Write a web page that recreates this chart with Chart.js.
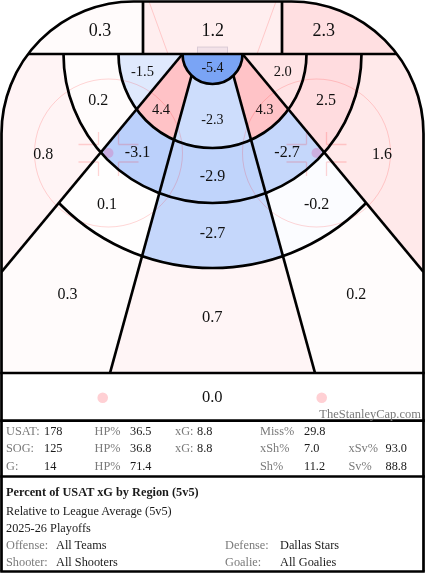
<!DOCTYPE html>
<html><head><meta charset="utf-8">
<script src="https://cdn.jsdelivr.net/npm/chart.js@4.4.1/dist/chart.umd.min.js"></script>
<style>
html,body{margin:0;padding:0;background:#fff;}
#wrap{position:relative;width:425px;height:574px;overflow:hidden;}
#c{position:absolute;left:0;top:0;}
.t{position:absolute;font-family:"Liberation Serif","Times New Roman",serif;font-size:12.3px;line-height:14px;height:14px;white-space:nowrap;color:#1a1a1a;}
.g{color:#7a7a7a;}
.b{font-weight:bold;}
</style></head><body>
<div id="wrap"><canvas id="c" width="425" height="574"></canvas><div id="txt"></div></div>
<script>
// ---------- DATA ----------
const regionNames = ['behindL','behindC','behindR','crease','innerHighL','slotL','innerC','slotR','innerHighR',
  'midHighL','midL','midC','midR','midHighR','outerL','outerR','lowMidL','lowMidC','lowMidR','lowL','lowC','lowR','neutral'];
const regionValues = [0.3, 1.2, 2.3, -5.4, -1.5, 4.4, -2.3, 4.3, 2.0,
  0.2, -3.1, -2.9, -2.7, 2.5, 0.8, 1.6, 0.1, -2.7, -0.2, 0.3, 0.7, 0.2, 0.0];

const shotTypes = ['USAT:', 'SOG:', 'G:'];
const shotCounts = [178, 125, 14];
const hpLabels = ['HP%', 'HP%', 'HP%'];
const hpValues = ['36.5', '36.8', '71.4'];
const xgLabels = ['xG:', 'xG:', ''];
const xgValues = ['8.8', '8.8', ''];
const rateLabels = ['Miss%', 'xSh%', 'Sh%'];
const rateValues = ['29.8', '7.0', '11.2'];
const svLabels = ['', 'xSv%', 'Sv%'];
const svValues = ['', '93.0', '88.8'];

const titleText = 'Percent of USAT xG by Region (5v5)';
const subtitleLines = ['Relative to League Average (5v5)', '2025-26 Playoffs'];
const filterLabels = ['Offense:', 'Shooter:', 'Defense:', 'Goalie:'];
const filterValues = ['All Teams', 'All Shooters', 'Dallas Stars', 'All Goalies'];
const watermark = 'TheStanleyCap.com';

// ---------- GEOMETRY (rink units = reference pixels) ----------
const GC = [212.5, 54];          // goal center on goal line
const LINES = {
  diagL: [[182.5, 54], [1.5, 272]],
  diagR: [[242.5, 54], [423.5, 272]],
  postL: [[197.5, 54], [110, 373]],
  postR: [[227.5, 54], [315, 373]]
};
const OUTL = [1.5, 54], OUTR = [423.5, 54], IN = [212.5, 320], LEFT = [1.5, 373], RIGHT = [423.5, 373], MID = [212.5, 373];
const Z = {ymin: 54, ymax: 373};
const GEO = {
  behindL: {c: [{ymax: 54}, {xmax: 143}], at: [100, 31], fs: 18},
  behindC: {c: [{ymax: 54}, {xmin: 143, xmax: 282}], at: [212.8, 31], fs: 18},
  behindR: {c: [{ymax: 54}, {xmin: 282}], at: [323.7, 31], fs: 18},
  crease: {c: [Z, {r: [0, 30]}], at: [212.5, 67.5], fs: 14},
  innerHighL: {c: [Z, {r: [30, 94]}, {h: 'diagL', t: OUTL}], at: [142.5, 71.5], fs: 14.5},
  slotL: {c: [Z, {r: [30, 94]}, {h: 'diagL', t: IN}, {h: 'postL', t: LEFT}], at: [161, 109.5], fs: 14.5},
  innerC: {c: [Z, {r: [30, 94]}, {h: 'postL', t: MID}, {h: 'postR', t: MID}], at: [212.3, 119.5], fs: 14},
  slotR: {c: [Z, {r: [30, 94]}, {h: 'diagR', t: IN}, {h: 'postR', t: RIGHT}], at: [264.5, 109.5], fs: 14.5},
  innerHighR: {c: [Z, {r: [30, 94]}, {h: 'diagR', t: OUTR}], at: [282.8, 71.5], fs: 14.5},
  midHighL: {c: [Z, {r: [94, 149]}, {h: 'diagL', t: OUTL}], at: [98.3, 100], fs: 16},
  midL: {c: [Z, {r: [94, 149]}, {h: 'diagL', t: IN}, {h: 'postL', t: LEFT}], at: [137.5, 152.5], fs: 16},
  midC: {c: [Z, {r: [94, 149]}, {h: 'postL', t: MID}, {h: 'postR', t: MID}], at: [212.5, 176], fs: 16},
  midR: {c: [Z, {r: [94, 149]}, {h: 'diagR', t: IN}, {h: 'postR', t: RIGHT}], at: [287, 152.5], fs: 16},
  midHighR: {c: [Z, {r: [94, 149]}, {h: 'diagR', t: OUTR}], at: [326, 100], fs: 16},
  outerL: {c: [Z, {r: [149, Infinity]}, {h: 'diagL', t: OUTL}], at: [43.3, 154], fs: 16},
  outerR: {c: [Z, {r: [149, Infinity]}, {h: 'diagR', t: OUTR}], at: [382, 154], fs: 16},
  lowMidL: {c: [Z, {r: [149, 214]}, {h: 'diagL', t: IN}, {h: 'postL', t: LEFT}], at: [107, 204], fs: 16},
  lowMidC: {c: [Z, {r: [149, 214]}, {h: 'postL', t: MID}, {h: 'postR', t: MID}], at: [212.5, 233.5], fs: 16},
  lowMidR: {c: [Z, {r: [149, 214]}, {h: 'diagR', t: IN}, {h: 'postR', t: RIGHT}], at: [316.7, 204], fs: 16},
  lowL: {c: [Z, {r: [214, Infinity]}, {h: 'diagL', t: IN}, {h: 'postL', t: LEFT}], at: [67.5, 294], fs: 16},
  lowC: {c: [Z, {r: [214, Infinity]}, {h: 'postL', t: MID}, {h: 'postR', t: MID}], at: [212.3, 317.5], fs: 16.5},
  lowR: {c: [Z, {r: [214, Infinity]}, {h: 'diagR', t: IN}, {h: 'postR', t: RIGHT}], at: [356.3, 294], fs: 16},
  neutral: {c: [{ymin: 373, ymax: 420.7}], at: [212.3, 397.5], fs: 16.5}
};

// colour scale (style)
const COLOR_STOPS = [[-5.4, [122, 164, 245]], [-3, [190, 210, 251]], [0, [255, 255, 255]], [4.4, [255, 194, 198]]];
function colorFor(v) {
  const s = COLOR_STOPS;
  if (v <= s[0][0]) return 'rgb(' + s[0][1].join(',') + ')';
  if (v >= s[s.length - 1][0]) return 'rgb(' + s[s.length - 1][1].join(',') + ')';
  for (let i = 0; i < s.length - 1; i++) {
    if (v >= s[i][0] && v <= s[i + 1][0]) {
      const t = (v - s[i][0]) / (s[i + 1][0] - s[i][0]);
      const c = s[i][1].map((a, k) => Math.round(a + (s[i + 1][1][k] - a) * t));
      return 'rgb(' + c.join(',') + ')';
    }
  }
}

// ---------- DRAWING PLUGIN ----------
const rinkPlugin = {
  id: 'rink',
  beforeDatasetsDraw(chart) {
    const ctx = chart.ctx, xs = chart.scales.x, ys = chart.scales.y;
    const X = v => xs.getPixelForValue(v), Y = v => ys.getPixelForValue(v);
    const R = r => Math.abs(X(r) - X(0));
    const W = chart.width, H = chart.height;

    function rinkPath(bottom) {
      ctx.beginPath();
      ctx.moveTo(X(1.5), Y(bottom));
      ctx.lineTo(X(1.5), Y(133.5));
      ctx.arc(X(133.5), Y(133.5), R(132), Math.PI, 1.5 * Math.PI);
      ctx.lineTo(X(291.5), Y(1.5));
      ctx.arc(X(291.5), Y(133.5), R(132), 1.5 * Math.PI, 2 * Math.PI);
      ctx.lineTo(X(423.5), Y(bottom));
    }
    function clipRink() { rinkPath(420.7); ctx.closePath(); ctx.clip(); }
    function clipHalf(name, t) {
      const [A, B] = LINES[name];
      let dx = B[0] - A[0], dy = B[1] - A[1];
      const L = Math.hypot(dx, dy); dx /= L; dy /= L;
      let nx = -dy, ny = dx;
      if ((t[0] - A[0]) * nx + (t[1] - A[1]) * ny < 0) { nx = -nx; ny = -ny; }
      const K = 3000;
      ctx.beginPath();
      ctx.moveTo(X(A[0] - K * dx), Y(A[1] - K * dy));
      ctx.lineTo(X(A[0] + K * dx), Y(A[1] + K * dy));
      ctx.lineTo(X(A[0] + K * dx + K * nx), Y(A[1] + K * dy + K * ny));
      ctx.lineTo(X(A[0] - K * dx + K * nx), Y(A[1] - K * dy + K * ny));
      ctx.closePath();
      ctx.clip();
    }
    function clipAnnulus(r0, r1) {
      ctx.beginPath();
      if (isFinite(r1)) ctx.arc(X(GC[0]), Y(GC[1]), R(r1), 0, 2 * Math.PI);
      else ctx.rect(-10, -10, W + 20, H + 20);
      if (r0 > 0) { ctx.moveTo(X(GC[0]) + R(r0), Y(GC[1])); ctx.arc(X(GC[0]), Y(GC[1]), R(r0), 0, 2 * Math.PI); }
      ctx.clip('evenodd');
    }
    function applyC(c) {
      if (c.r) { clipAnnulus(c.r[0], c.r[1]); return; }
      if (c.h) { clipHalf(c.h, c.t); return; }
      const x0 = c.xmin !== undefined ? X(c.xmin) : -10;
      const x1 = c.xmax !== undefined ? X(c.xmax) : W + 10;
      const y0 = c.ymin !== undefined ? Y(c.ymin) : -10;
      const y1 = c.ymax !== undefined ? Y(c.ymax) : H + 10;
      ctx.beginPath(); ctx.rect(x0, y0, x1 - x0, y1 - y0); ctx.clip();
    }

    // region fills
    regionNames.forEach((n, i) => {
      const g = GEO[n];
      ctx.save();
      clipRink();
      g.c.forEach(applyC);
      ctx.fillStyle = colorFor(regionValues[i]);
      ctx.fillRect(0, 0, W, H);
      ctx.restore();
    });

    // faint rink markings
    ctx.save();
    clipRink();
    ctx.strokeStyle = 'rgba(255,0,0,0.16)';
    ctx.lineWidth = 1;
    [108.5, 316.5].forEach(cx => {
      ctx.beginPath(); ctx.arc(X(cx), Y(153), R(74), 0, 2 * Math.PI); ctx.stroke();
      ctx.lineWidth = 1.3;
      [-10, 10].forEach(dx => {
        ctx.beginPath();
        ctx.moveTo(X(cx + dx), Y(132)); ctx.lineTo(X(cx + dx), Y(144.5));
        ctx.moveTo(X(cx + dx), Y(162)); ctx.lineTo(X(cx + dx), Y(176));
        const ex = dx < 0 ? cx - 30 : cx + 30;
        ctx.moveTo(X(ex), Y(144.5)); ctx.lineTo(X(cx + dx), Y(144.5));
        ctx.moveTo(X(ex), Y(162)); ctx.lineTo(X(cx + dx), Y(162));
        ctx.stroke();
      });
      ctx.lineWidth = 1;
    });
    ctx.beginPath();
    ctx.moveTo(X(149), Y(1.5)); ctx.lineTo(X(168), Y(54));
    ctx.moveTo(X(276), Y(1.5)); ctx.lineTo(X(257), Y(54));
    ctx.stroke();
    // net
    ctx.fillStyle = 'rgba(190,170,200,0.18)';
    ctx.fillRect(X(197.5), Y(47), X(227.5) - X(197.5), Y(54) - Y(47));
    ctx.strokeStyle = 'rgba(160,150,175,0.35)';
    ctx.strokeRect(X(197.5), Y(47), X(227.5) - X(197.5), Y(54) - Y(47));
    // dots
    ctx.fillStyle = 'rgba(215,120,185,0.42)';
    [108.5, 316.5].forEach(cx => { ctx.beginPath(); ctx.arc(X(cx), Y(153), R(5), 0, 2 * Math.PI); ctx.fill(); });
    ctx.fillStyle = 'rgb(255,208,212)';
    [102.7, 321.7].forEach(cx => { ctx.beginPath(); ctx.arc(X(cx), Y(397.7), R(5.3), 0, 2 * Math.PI); ctx.fill(); });
    ctx.restore();

    // black region boundaries
    ctx.strokeStyle = '#000';
    ctx.lineWidth = 2.7;
    const seg = (a, b) => { ctx.beginPath(); ctx.moveTo(X(a[0]), Y(a[1])); ctx.lineTo(X(b[0]), Y(b[1])); ctx.stroke(); };

    ctx.save();
    clipRink();
    seg([0, 54], [425, 54]);
    seg([143, 0], [143, 54]);
    seg([282, 0], [282, 54]);
    [94, 149].forEach(r => { ctx.beginPath(); ctx.arc(X(GC[0]), Y(GC[1]), R(r), 0, Math.PI); ctx.stroke(); });
    seg(LINES.diagL[0], LINES.diagL[1]);
    seg(LINES.diagR[0], LINES.diagR[1]);
    ctx.save();
    clipHalf('diagL', IN); clipHalf('diagR', IN);
    ctx.beginPath(); ctx.arc(X(GC[0]), Y(GC[1]), R(214), 0, Math.PI); ctx.stroke();
    ctx.restore();
    ctx.save();
    clipAnnulus(30, Infinity);
    seg(LINES.postL[0], LINES.postL[1]);
    seg(LINES.postR[0], LINES.postR[1]);
    ctx.restore();
    ctx.beginPath(); ctx.arc(X(GC[0]), Y(GC[1]), R(30), 0, Math.PI); ctx.stroke();
    ctx.restore();

    // outline + boxes
    rinkPath(571.5);
    ctx.stroke();
    [373, 420.7, 476.5, 571.5].forEach(y => seg([0.2, y], [424.8, y]));
  },
  afterDatasetsDraw(chart) {
    const ctx = chart.ctx;
    const meta = chart.getDatasetMeta(0);
    ctx.save();
    ctx.fillStyle = '#111';
    ctx.textAlign = 'center';
    ctx.textBaseline = 'middle';
    meta.data.forEach((el, i) => {
      const g = GEO[regionNames[i]];
      ctx.font = g.fs + 'px "Liberation Serif", "Times New Roman", serif';
      ctx.fillText(regionValues[i].toFixed(1), el.x, el.y + 0.5);
    });
    ctx.restore();
  }
};

new Chart(document.getElementById('c'), {
  type: 'scatter',
  data: {
    datasets: [{
      label: 'xG relative to league',
      data: regionNames.map(n => ({x: GEO[n].at[0], y: GEO[n].at[1]})),
      pointRadius: 0,
      pointHoverRadius: 0,
      showLine: false
    }]
  },
  options: {
    responsive: false,
    animation: false,
    events: [],
    layout: {padding: 0},
    plugins: {legend: {display: false}, tooltip: {enabled: false}},
    scales: {
      x: {type: 'linear', min: 0, max: 425, display: false},
      y: {type: 'linear', min: 0, max: 574, reverse: true, display: false}
    }
  },
  plugins: [rinkPlugin]
});

// ---------- HTML TEXT ----------
const txt = document.getElementById('txt');
function put(s, x, yc, cls, extra) {
  const d = document.createElement('div');
  d.className = 't ' + (cls || '');
  d.textContent = s;
  d.style.left = x + 'px';
  d.style.top = (yc - 7) + 'px';
  if (extra) Object.assign(d.style, extra);
  txt.appendChild(d);
}
put(watermark, 0, 414, 'g', {left: 'auto', right: '4px', fontSize: '12.5px'});
const rowY = [430.5, 448, 465.5];
rowY.forEach((y, i) => {
  put(shotTypes[i], 6, y, 'g');
  put(String(shotCounts[i]), 44, y);
  put(hpLabels[i], 94.5, y, 'g');
  put(hpValues[i], 130, y);
  if (xgLabels[i]) { put(xgLabels[i], 175, y, 'g'); put(xgValues[i], 197, y); }
  put(rateLabels[i], 260, y, 'g');
  put(rateValues[i], 304, y);
  if (svLabels[i]) { put(svLabels[i], 348.5, y, 'g'); put(svValues[i], 385.5, y); }
});
put(titleText, 6, 492, 'b');
put(subtitleLines[0], 6, 511);
put(subtitleLines[1], 6, 528);
put(filterLabels[0], 6, 545, 'g'); put(filterValues[0], 56, 545);
put(filterLabels[1], 6, 562, 'g'); put(filterValues[1], 56, 562);
put(filterLabels[2], 225, 545, 'g'); put(filterValues[2], 280, 545);
put(filterLabels[3], 225, 562, 'g'); put(filterValues[3], 280, 562);
</script>
</body></html>
